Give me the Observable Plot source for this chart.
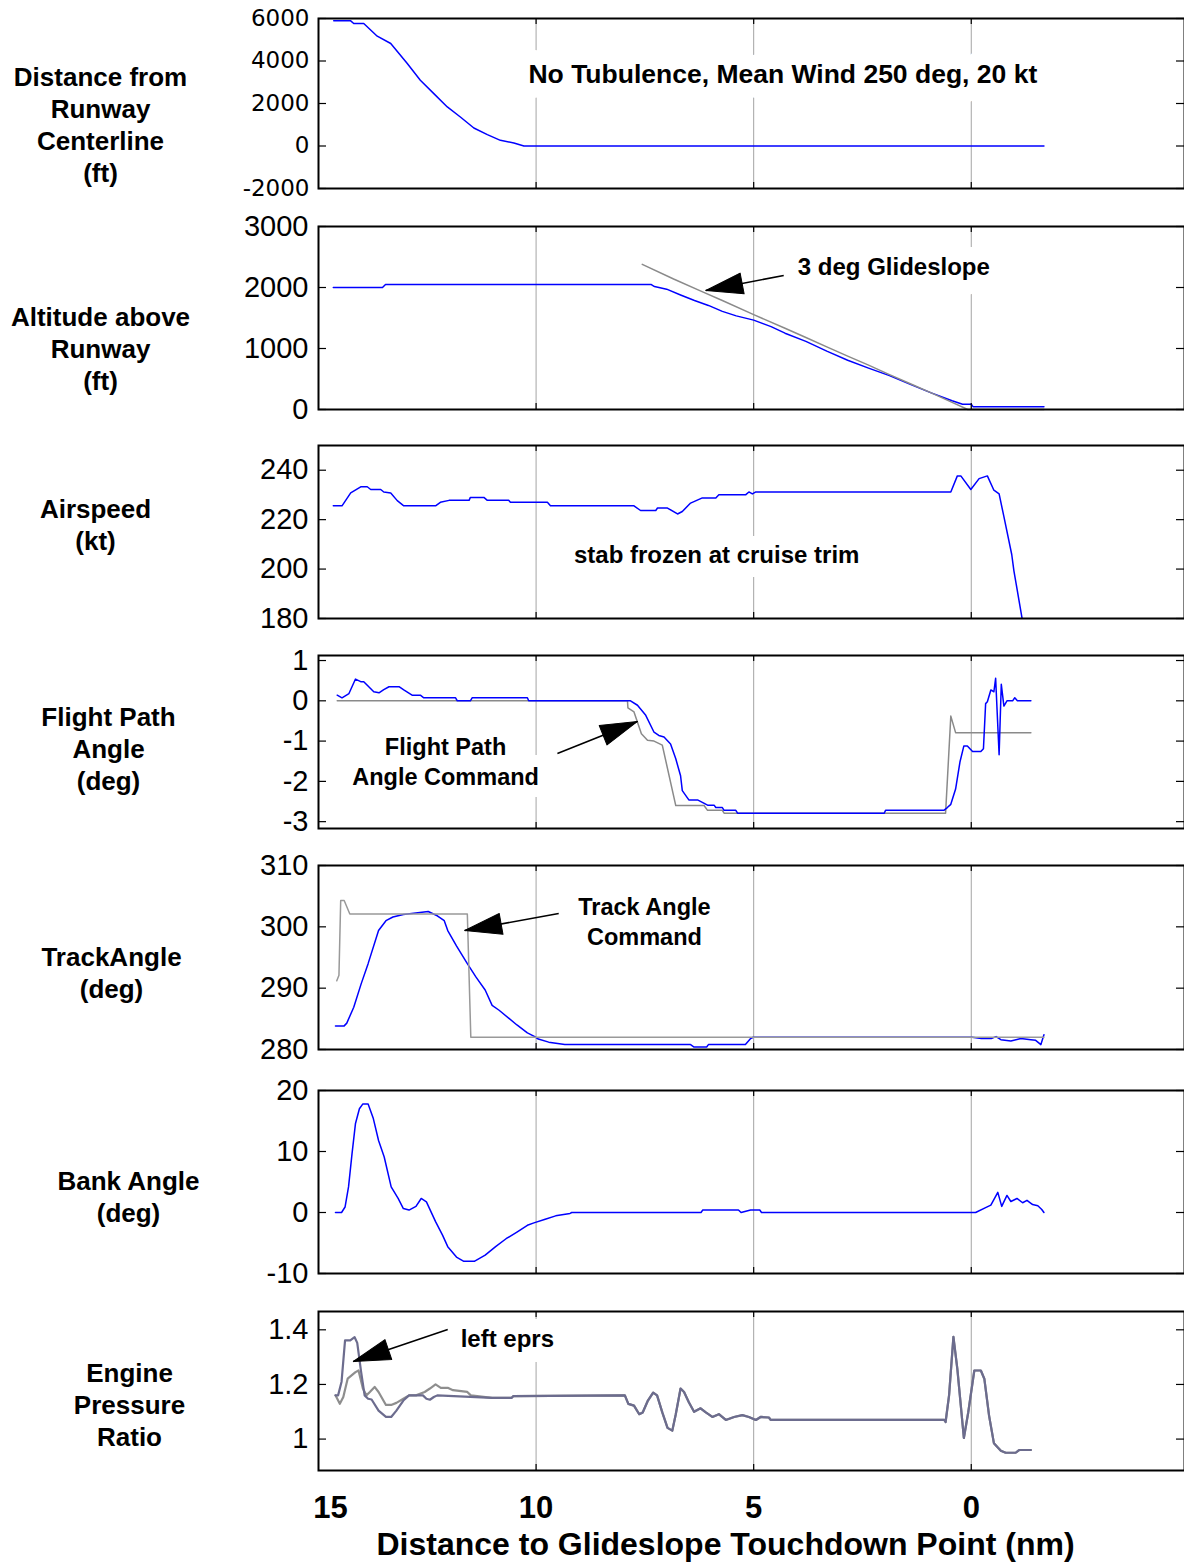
<!DOCTYPE html>
<html><head><meta charset="utf-8">
<script src="https://cdn.jsdelivr.net/npm/d3@7"></script>
<script src="https://cdn.jsdelivr.net/npm/@observablehq/plot@0.6"></script>
<style>
body{margin:0;background:#fff;}
#chart{position:relative;width:1184px;height:1564px;overflow:hidden;background:#fff;}
#chart svg{position:absolute;left:0;}
</style></head><body><div id="chart"></div>
<script>
// ---------- data (x = distance to glideslope touchdown point, nm) ----------
const gridNm = [10, 5, 0];
const xLabels = [15, 10, 5, 0];

// Distance from runway centerline (ft)
const distNm = [14.65,14.26,14.19,13.96,13.65,13.34,12.96,12.66,12.35,12.04,11.74,11.43,11.12,10.82,10.51,10.28,-1.67];
const distFt = [5890,5890,5764,5764,5168,4822,3880,3094,2466,1838,1366,848,534,267,141,0,0];

// Altitude above runway (ft)
const altNm = [14.66,13.53,13.46,7.64,7.36,7.28,7.0,6.68,6.36,6.04,5.72,5.4,5.0,4.6,4.28,3.8,3.32,2.84,2.36,1.88,1.4,0.92,0.44,0.2,0.0,-0.04,-1.67];
const altFt = [2000,2000,2050,2050,2050,2016,1973,1877,1786,1706,1609,1535,1465,1358,1251,1117,957,807,679,556,412,272,144,85,85,47,47];
const glideNm = [7.56,6.84,6.16,5.72,5.0,4.28,3.8,3.32,2.84,2.36,1.88,1.4,0.92,0.44,0.08,-1.67];
const glideFt = [2380,2139,1925,1786,1556,1331,1181,1026,876,727,572,422,272,117,0,0];

// Airspeed (kt)
const asNm = [14.66,14.46,14.26,14.03,13.88,13.80,13.57,13.50,13.34,13.19,13.04,12.31,12.20,12.00,11.54,11.51,11.20,11.12,10.63,10.59,9.74,9.67,7.75,7.60,7.25,7.21,6.98,6.75,6.64,6.45,6.18,5.87,5.80,5.18,5.11,5.03,4.95,0.47,0.32,0.24,0.01,-0.18,-0.37,-0.52,-0.64,-0.75,-0.93,-0.98,-1.18];
const asKt = [225.6,225.6,230.8,233.3,233.3,232.2,232.2,231.2,230.8,227.7,225.6,225.6,227,227.8,227.8,229,229,227.8,227.8,227,227,225.6,225.6,223.7,223.7,224.7,224.7,222.3,223.3,226.7,228.8,228.8,230.1,230.1,231.2,230.4,231.2,231.2,237.7,237.7,232.2,236.6,237.7,231.9,230.4,221.2,205.9,199.3,178.8];

// Flight path angle (deg) and command
const fpaNm = [14.57,14.46,14.30,14.15,14.03,13.96,13.73,13.61,13.50,13.38,13.15,13.04,12.85,12.66,12.58,11.85,11.81,11.51,11.47,10.20,10.17,7.83,7.67,7.48,7.29,7.18,7.06,6.91,6.79,6.68,6.64,6.49,6.29,6.18,6.06,5.91,5.87,5.72,5.68,5.41,5.37,2.00,1.97,0.63,0.55,0.47,0.36,0.26,0.17,0.09,-0.03,-0.22,-0.28,-0.33,-0.37,-0.45,-0.52,-0.56,-0.64,-0.69,-0.75,-0.82,-0.95,-1.00,-1.06,-1.37];
const fpaDeg = [0.14,0.075,0.18,0.54,0.475,0.475,0.225,0.2,0.28,0.35,0.35,0.27,0.14,0.14,0.075,0.075,0,0,0.075,0.075,0,0,-0.11,-0.36,-0.78,-0.86,-0.9,-1.07,-1.44,-1.86,-2.23,-2.46,-2.46,-2.52,-2.59,-2.59,-2.65,-2.65,-2.72,-2.72,-2.79,-2.79,-2.72,-2.72,-2.65,-2.57,-2.19,-1.52,-1.12,-1.12,-1.26,-1.26,-1.19,-0.07,-0.025,0.27,0.225,0.56,-1.34,0.41,-0.13,0,0,0.075,0,0];
const fpaCmdNm = [14.57,7.90,7.89,7.75,7.58,7.44,7.29,7.10,6.79,6.14,6.06,5.72,5.68,0.59,0.47,0.36,-1.37];
const fpaCmdDeg = [0,0,-0.175,-0.275,-0.82,-0.98,-1.0,-1.1,-2.6,-2.6,-2.72,-2.72,-2.79,-2.79,-0.38,-0.79,-0.79];

// Track angle (deg) and command
const trackNm = [14.61,14.41,14.35,14.19,14.02,13.86,13.62,13.45,13.29,13.05,12.48,12.27,12.11,12.03,11.83,11.58,11.38,11.17,11.01,10.85,10.44,10.2,10.03,9.95,9.71,9.34,6.45,6.37,6.08,6.04,5.19,5.07,5.01,-0.02,-0.23,-0.46,-0.57,-0.68,-0.91,-1.14,-1.37,-1.48,-1.6,-1.67];
const trackDeg = [283.85,283.85,284.3,286.9,290.7,294.0,299.4,301.0,301.6,302.0,302.5,301.8,301.0,299.4,296.9,294.0,291.8,289.7,287.2,286.4,284.0,282.7,282.1,281.7,281.2,280.8,280.8,280.4,280.4,280.8,280.8,281.8,282.0,282.0,281.8,281.8,282.1,281.6,281.4,281.8,281.6,281.5,280.8,282.4];
const trackCmdNm = [14.58,14.53,14.49,14.41,14.28,11.58,11.50,-1.67];
const trackCmdDeg = [291.2,292.1,304.3,304.3,302.1,302.1,282.0,282.0];

// Bank angle (deg)
const bankNm = [14.61,14.47,14.39,14.31,14.23,14.15,14.06,13.98,13.86,13.74,13.62,13.49,13.33,13.17,13.05,12.92,12.76,12.64,12.52,12.31,12.15,12.03,11.83,11.66,11.42,11.17,10.93,10.69,10.44,10.2,10.05,9.79,9.55,9.22,9.18,6.21,6.17,5.35,5.29,5.07,4.86,4.82,-0.1,-0.33,-0.45,-0.61,-0.70,-0.82,-0.91,-1.05,-1.18,-1.28,-1.41,-1.53,-1.62,-1.67];
const bankDeg = [0,0,0.9,4.2,9.6,14.6,17.0,17.8,17.8,15.4,11.8,9.1,4.2,2.3,0.65,0.4,1.0,2.3,1.75,-1.5,-3.7,-5.6,-7.3,-8.0,-8.0,-7.0,-5.6,-4.3,-3.2,-2.1,-1.7,-1.1,-0.55,-0.15,0,0,0.4,0.4,0,0.4,0.4,0,0,0.8,1.2,3.3,1.0,2.8,1.8,2.3,1.6,2.0,1.3,1.1,0.5,0];

// Engine pressure ratio: left and right
const eprLNm = [14.61,14.55,14.47,14.39,14.27,14.17,14.11,14.02,13.94,13.86,13.78,13.62,13.45,13.33,13.21,13.05,12.92,12.6,12.52,12.44,12.35,12.27,11.01,10.56,10.52,7.96,7.88,7.75,7.63,7.55,7.43,7.31,7.22,7.1,6.98,6.87,6.79,6.68,6.60,6.49,6.37,6.22,6.10,5.95,5.8,5.64,5.45,5.26,5.11,4.95,4.84,4.65,4.61,0.62,0.59,0.51,0.41,0.32,0.17,0.07,-0.07,-0.22,-0.30,-0.41,-0.52,-0.68,-0.79,-1.02,-1.10,-1.37];
const eprL = [1.16,1.16,1.21,1.361,1.361,1.373,1.352,1.245,1.16,1.1475,1.145,1.104,1.081,1.081,1.104,1.141,1.16,1.16,1.1475,1.144,1.154,1.16,1.151,1.151,1.1575,1.16,1.129,1.1225,1.091,1.0975,1.141,1.17,1.16,1.0975,1.041,1.031,1.091,1.185,1.1725,1.135,1.1,1.1125,1.0975,1.081,1.091,1.07,1.081,1.0875,1.081,1.07,1.081,1.079,1.07,1.07,1.0625,1.16,1.374,1.257,1.004,1.0975,1.251,1.251,1.221,1.085,0.985,0.9575,0.95,0.95,0.96,0.96];
const eprRNmStart = [14.61,14.51,14.43,14.33,14.15,14.08,13.98,13.90,13.82,13.71,13.62,13.45,13.33,13.21,13.05,12.92,12.76,12.56,12.44,12.31,12.19,12.03,11.91,11.58,11.50];
const eprRStart = [1.16,1.129,1.154,1.221,1.245,1.251,1.185,1.16,1.1725,1.191,1.1725,1.125,1.125,1.1325,1.1475,1.16,1.16,1.1725,1.185,1.2,1.1875,1.1875,1.179,1.1725,1.16];

// annotations
const noteWind = {nm: 4.33, v: 3459, text: "No Tubulence, Mean Wind 250 deg, 20 kt"};
const noteGlide = {nm: 1.78, v: 2361, text: "3 deg Glideslope"};
const arrowGlide = {tailNm: 4.31, tailV: 2197, tipNm: 6.10, tipV: 1951, angle: 79};
const noteStab = {nm: 5.85, v: 206.3, text: "stab frozen at cruise trim"};
const noteFpa = {nm: 12.08, v: -1.48, text: "Flight Path\nAngle Command"};
const arrowFpa = {tailNm: 9.51, tailV: -1.307, tipNm: 7.67, tipV: -0.513, angle: -111.8};
const noteTrack = {nm: 7.51, v: 301.03, text: "Track Angle\nCommand"};
const arrowTrack = {tailNm: 9.48, tailV: 302.17, tipNm: 11.64, tipV: 299.4, angle: 79.7};
const noteEpr = {nm: 10.66, v: 1.372, text: "left eprs"};
const arrowEpr = {tailNm: 12.03, tailV: 1.401, tipNm: 14.2, tipV: 1.284, angle: 71.2};
const xTitle = "Distance to Glideslope Touchdown Point (nm)";

// ---------- drawing ----------
const FONT = "'Liberation Sans', Arial, Helvetica, sans-serif";
const BLUE = "#0000ff", GRAY = "#8a8a8a", EPRL = "#6c6c8e", EPRR = "#8e8e8e";
const chart = document.getElementById("chart");
const pts = (xs, ys) => xs.slice(0, Math.min(xs.length, ys.length)).map((x, i) => ({nm: x, v: ys[i]}));

const eprRNm = eprRNmStart.concat(eprLNm.filter(n => n < 11.5));
const eprR = eprRStart.concat(eprL.filter((_, i) => eprLNm[i] < 11.5));

const headShape = {draw(ctx, l) { ctx.moveTo(0, 0); ctx.lineTo(-10.5, -l); ctx.lineTo(10.5, -l); ctx.closePath(); }};
function arrow(a) {
  return [
    Plot.link([a], {x1: "tailNm", y1: "tailV", x2: "tipNm", y2: "tipV", stroke: "black", strokeWidth: 1.6}),
    Plot.vector([a], {x: "tipNm", y: "tipV", rotate: a.angle, length: 37, anchor: "start", shape: headShape, fill: "black", stroke: "black", strokeWidth: 1})
  ];
}
function note(n, fontSize, halo) {
  return Plot.text([n], {x: "nm", y: "v", text: "text", fontSize, fontWeight: "bold", fill: "black",
    stroke: "white", strokeWidth: halo, strokeLinejoin: "round", paintOrder: "stroke", lineHeight: 1.28});
}
const line = (data, stroke, w = 1.5, extra = {}) => Plot.line(data, {x: "nm", y: "v", stroke, strokeWidth: w, strokeLinejoin: "round", ...extra});

function panel(cfg) {
  const mt = cfg.mt ?? 20, mb = cfg.mb ?? 20;
  const frameH = cfg.bottom - cfg.top, frameW = 1184 - 318;
  const svg = Plot.plot({
    width: 1184, height: frameH + mt + mb,
    marginLeft: 318, marginRight: 0, marginTop: mt, marginBottom: mb,
    style: {fontFamily: FONT, background: "transparent", overflow: "visible", color: "black"},
    x: {domain: [15, -4.9], axis: null},
    y: {domain: cfg.yDomain, label: null},
    marks: [
      Plot.ruleX(gridNm, {stroke: "#a4a4a4", strokeWidth: 1}),
      ...(cfg.notes || []),
      ...cfg.lines,
      ...(cfg.arrows || []),
      Plot.tickX(gridNm, {x: d => d, insetBottom: frameH - 6, stroke: "black", strokeWidth: 1.2}),
      Plot.tickX(gridNm, {x: d => d, insetTop: frameH - 6, stroke: "black", strokeWidth: 1.2}),
      Plot.tickY(cfg.yTicks, {y: d => d, insetRight: frameW - 8, stroke: "black", strokeWidth: 1.2}),
      Plot.tickY(cfg.yTicks, {y: d => d, insetLeft: frameW - 8, stroke: "black", strokeWidth: 1.2}),
      Plot.frame({stroke: "black", strokeWidth: 2}),
      Plot.axisY(cfg.yTicks, {tickSize: 0, tickPadding: cfg.tickPad ?? 10, tickFormat: d => String(d), label: null,
        fontSize: cfg.tickFontSize ?? 29, fontFamily: cfg.tickFont ?? FONT}),
      Plot.text([cfg.label], {frameAnchor: "left", dx: cfg.labelDx, dy: cfg.labelDy, fontSize: 26, fontWeight: "bold",
        textAnchor: "middle", lineHeight: 1.23, fill: "black"}),
      ...(cfg.extra || [])
    ]
  });
  svg.style.top = (cfg.top - mt) + "px";
  chart.appendChild(svg);
  return svg;
}

// Panel 1
panel({
  top: 18, bottom: 188, mt: 18, yDomain: [-2000, 6000], yTicks: [-2000, 0, 2000, 4000, 6000], tickPad: 9,
  tickFont: "'DejaVu Sans', sans-serif", tickFontSize: 23,
  label: "Distance from\nRunway\nCenterline\n(ft)", labelDx: -218, labelDy: 20,
  notes: [note(noteWind, 26.5, 30)],
  lines: [line(pts(distNm, distFt), BLUE)]
});

// Panel 2
panel({
  top: 226, bottom: 409, yDomain: [0, 3000], yTicks: [0, 1000, 2000, 3000],
  label: "Altitude above\nRunway\n(ft)", labelDx: -218, labelDy: 29.5,
  notes: [note(noteGlide, 24, 30)],
  lines: [line(pts(altNm, altFt), BLUE), line(pts(glideNm, glideFt), GRAY)],
  arrows: arrow(arrowGlide)
});

// Panel 3
panel({
  top: 445, bottom: 618, yDomain: [180, 250], yTicks: [180, 200, 220, 240],
  label: "Airspeed\n(kt)", labelDx: -223, labelDy: -8.5,
  notes: [note(noteStab, 24, 28)],
  lines: [line(pts(asNm, asKt), BLUE, 1.5, {clip: true})]
});

// Panel 4
panel({
  top: 655, bottom: 828, yDomain: [-3.17, 1.125], yTicks: [-3, -2, -1, 0, 1],
  label: "Flight Path\nAngle\n(deg)", labelDx: -210, labelDy: 5.5,
  notes: [note(noteFpa, 23.5, 24)],
  lines: [line(pts(fpaCmdNm, fpaCmdDeg), GRAY), line(pts(fpaNm, fpaDeg), BLUE)],
  arrows: arrow(arrowFpa)
});

// Panel 5
panel({
  top: 865, bottom: 1049, yDomain: [280, 310], yTicks: [280, 290, 300, 310],
  label: "TrackAngle\n(deg)", labelDx: -207, labelDy: 14,
  notes: [note(noteTrack, 23.5, 20)],
  lines: [line(pts(trackNm, trackDeg), BLUE), line(pts(trackCmdNm, trackCmdDeg), "#999999")],
  arrows: arrow(arrowTrack)
});

// Panel 6
panel({
  top: 1090, bottom: 1273, yDomain: [-10, 20], yTicks: [-10, 0, 10, 20],
  label: "Bank Angle\n(deg)", labelDx: -190, labelDy: 13.5,
  lines: [line(pts(bankNm, bankDeg), BLUE)]
});

// Panel 7 (with x labels and title)
panel({
  top: 1311, bottom: 1470, mb: 94, yDomain: [0.885, 1.467], yTicks: [1, 1.2, 1.4],
  label: "Engine\nPressure\nRatio", labelDx: -189, labelDy: 12.5,
  notes: [note(noteEpr, 24, 30)],
  lines: [line(pts(eprRNm, eprR), EPRR, 2.2), line(pts(eprLNm, eprL), EPRL, 2.2)],
  arrows: arrow(arrowEpr),
  extra: [
    Plot.text(xLabels.slice(0, 1), {x: d => d, text: d => String(d), frameAnchor: "bottom", dy: 47, dx: 12, fontSize: 31, fontWeight: "bold", fill: "black"}),
    Plot.text(xLabels.slice(1), {x: d => d, text: d => String(d), frameAnchor: "bottom", dy: 47, fontSize: 31, fontWeight: "bold", fill: "black"}),
    Plot.text([xTitle], {frameAnchor: "bottom", dx: -26, dy: 84, fontSize: 32, fontWeight: "bold", fill: "black"})
  ]
});
</script></body></html>
